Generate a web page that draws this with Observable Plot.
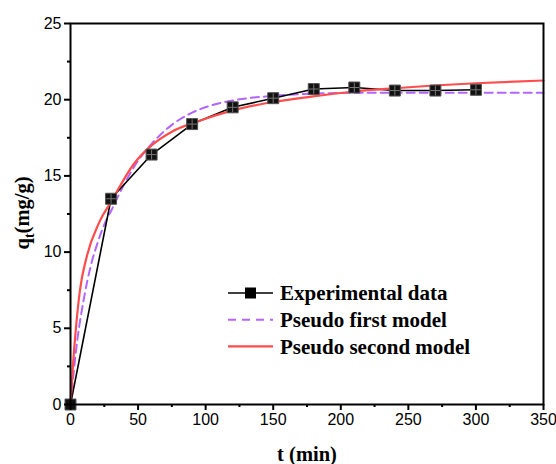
<!DOCTYPE html>
<html>
<head>
<meta charset="utf-8">
<script src="https://cdn.jsdelivr.net/npm/d3@7"></script>
<script src="https://cdn.jsdelivr.net/npm/@observablehq/plot@0.6"></script>
<style>
  html, body { margin: 0; padding: 0; background: #fff; }
  #chart { position: relative; width: 556px; height: 464px; }
</style>
</head>
<body>
<div id="chart"></div>
<script>
// Experimental data
const tExp = [0, 30, 60, 90, 120, 150, 180, 210, 240, 270, 300];
const qExp = [0, 13.5, 16.4, 18.4, 19.5, 20.1, 20.7, 20.8, 20.6, 20.6, 20.65];

// Pseudo first model
const tPFO = [0, 5, 10, 15, 20, 25, 30, 40, 50, 60, 75, 90, 105, 120, 150, 180, 210, 250, 300, 350];
const qPFO = [0, 4.2, 7.0, 9.1, 10.6, 11.8, 12.7, 14.5, 16.0, 17.1, 18.35, 19.15, 19.65, 19.95, 20.25, 20.4, 20.45, 20.45, 20.45, 20.45];

// Pseudo second model
const tPSO = [0, 2, 4, 7, 12, 21, 30, 47, 60, 75, 96, 120, 150, 178, 210, 240, 269, 300, 350];
const qPSO = [0, 2.8, 5.0, 7.5, 9.7, 11.9, 13.3, 15.8, 17.0, 17.9, 18.63, 19.3, 19.85, 20.2, 20.54, 20.75, 20.93, 21.08, 21.26];

// Ticks
const xTicks = [0, 50, 100, 150, 200, 250, 300, 350];
const xMinor = [25, 75, 125, 175, 225, 275, 325];
const yTicks = [0, 5, 10, 15, 20, 25];
const yMinor = [2.5, 7.5, 12.5, 17.5, 22.5];

const legendLabels = ["Experimental data", "Pseudo first model", "Pseudo second model"];

const expData = tExp.map((t, i) => ({t, q: qExp[i]}));
const pfoData = tPFO.map((t, i) => ({t, q: qPFO[i]}));
const psoData = tPSO.map((t, i) => ({t, q: qPSO[i]}));

const colExp = "#000000";
const colPFO = "#B366FF";
const colPSO = "#FF4D4D";

const plot = Plot.plot({
  width: 556,
  height: 464,
  marginLeft: 70,
  marginRight: 13,
  marginTop: 23,
  marginBottom: 60,
  x: {domain: [0, 350]},
  y: {domain: [0, 25]},
  style: {fontFamily: "'Liberation Sans', Arial, sans-serif", fontSize: "16px", color: "#000", background: "#fff"},
  marks: [
    Plot.line(pfoData, {x: "t", y: "q", stroke: colPFO, strokeWidth: 2, strokeDasharray: "8,5", curve: "monotone-x"}),
    Plot.line(expData, {x: "t", y: "q", stroke: colExp, strokeWidth: 1.6}),
    Plot.line(psoData, {x: "t", y: "q", stroke: colPSO, strokeWidth: 2.2, curve: "monotone-x"}),
    Plot.dot(expData, {x: "t", y: "q", symbol: "square", r: 6.2, fill: "#111", stroke: "#555", strokeWidth: 1}),
    Plot.dot(expData, {x: "t", y: "q", symbol: "plus", r: 3.2, stroke: "#777", strokeWidth: 1}),
    Plot.frame({stroke: "#000", strokeWidth: 2}),
    Plot.axisX({ticks: xTicks, tickSize: 6, tickPadding: 3, strokeWidth: 2, label: null, fontSize: 16}),
    Plot.axisX({ticks: xMinor, tickSize: 3, strokeWidth: 2, label: null, tickFormat: () => ""}),
    Plot.axisY({ticks: yTicks, tickSize: 6, tickPadding: 3, strokeWidth: 2, label: null, fontSize: 16}),
    Plot.axisY({ticks: yMinor, tickSize: 3, strokeWidth: 2, label: null, tickFormat: () => ""})
  ]
});

document.getElementById("chart").appendChild(plot);

const svg = d3.select(plot);
const serif = "'Liberation Serif', 'Times New Roman', serif";

// X axis title
svg.append("text")
  .attr("x", 307).attr("y", 461)
  .attr("text-anchor", "middle")
  .attr("font-family", serif).attr("font-weight", "bold").attr("font-size", 20.5)
  .attr("fill", "#000")
  .text("t (min)");

// Y axis title with subscript
const yt = svg.append("text")
  .attr("transform", "translate(29,213) rotate(-90)")
  .attr("text-anchor", "middle")
  .attr("font-family", serif).attr("font-weight", "bold").attr("font-size", 20.5)
  .attr("fill", "#000");
yt.append("tspan").text("q");
yt.append("tspan").attr("font-size", 14).attr("dy", 5).text("t");
yt.append("tspan").attr("dy", -5).text("(mg/g)");

// Legend
const lg = svg.append("g").attr("transform", "translate(228,293)");
const rowH = 26.7;
const styles = [
  {stroke: colExp, dash: null, w: 1.6, marker: true},
  {stroke: colPFO, dash: "8,6", w: 2, marker: false},
  {stroke: colPSO, dash: null, w: 2.2, marker: false}
];
legendLabels.forEach((lab, i) => {
  const g = lg.append("g").attr("transform", `translate(0,${i * rowH})`);
  g.append("line").attr("x1", 0).attr("x2", 45).attr("y1", 0).attr("y2", 0)
    .attr("stroke", styles[i].stroke).attr("stroke-width", styles[i].w)
    .attr("stroke-dasharray", styles[i].dash);
  if (styles[i].marker) {
    g.append("rect").attr("x", 17).attr("y", -5.5).attr("width", 11).attr("height", 11).attr("fill", "#000");
  }
  g.append("text").attr("x", 52).attr("y", 0).attr("dy", "0.35em")
    .attr("text-anchor", "start")
    .attr("font-family", serif).attr("font-weight", "bold").attr("font-size", 21)
    .attr("fill", "#000").text(lab);
});
</script>
</body>
</html>
